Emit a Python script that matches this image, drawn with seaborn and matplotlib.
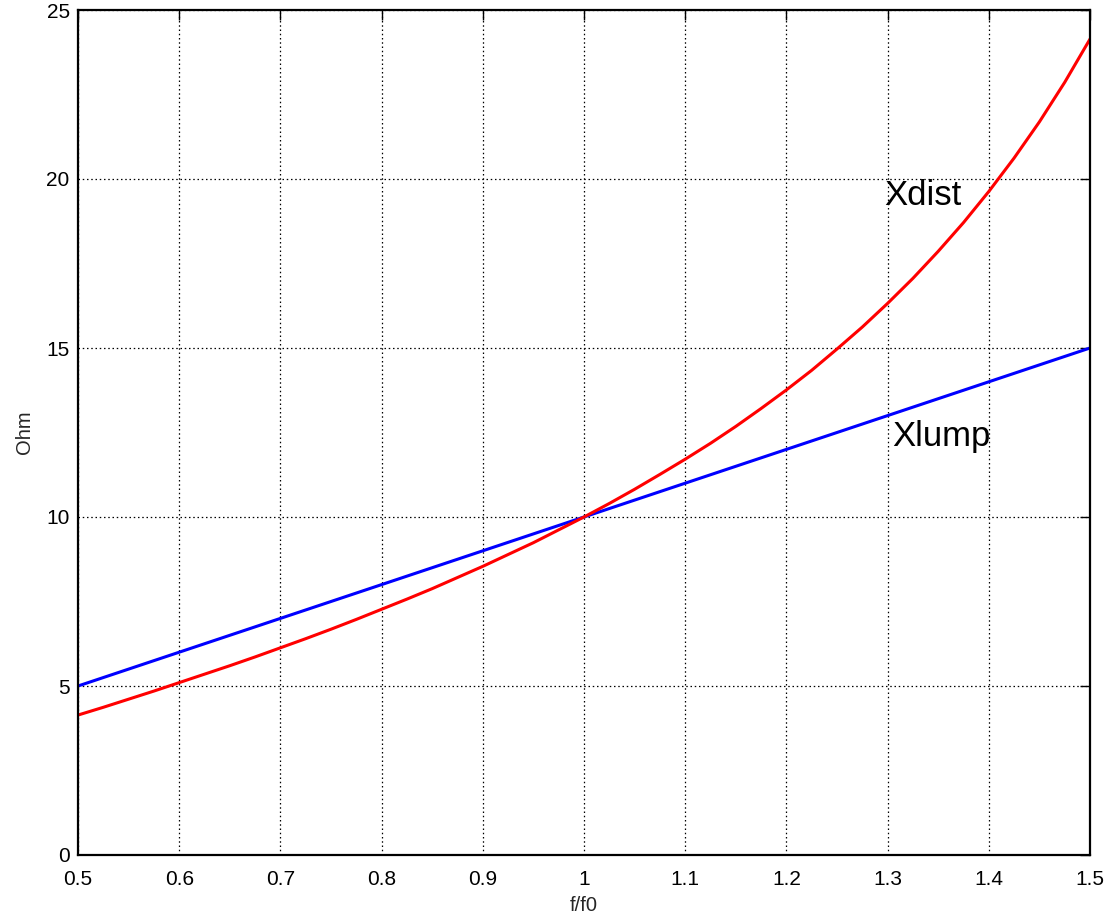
import matplotlib
matplotlib.use("Agg")
import matplotlib.pyplot as plt
import seaborn as sns
import pandas as pd

# values
f_ratio = [0.500, 0.525, 0.550, 0.575, 0.600, 0.625, 0.650, 0.675, 0.700, 0.725,
           0.750, 0.775, 0.800, 0.825, 0.850, 0.875, 0.900, 0.925, 0.950, 0.975,
           1.000, 1.025, 1.050, 1.075, 1.100, 1.125, 1.150, 1.175, 1.200, 1.225,
           1.250, 1.275, 1.300, 1.325, 1.350, 1.375, 1.400, 1.425, 1.450, 1.475,
           1.500]
x_lump = [5.00, 5.25, 5.50, 5.75, 6.00, 6.25, 6.50, 6.75, 7.00, 7.25,
          7.50, 7.75, 8.00, 8.25, 8.50, 8.75, 9.00, 9.25, 9.50, 9.75,
          10.00, 10.25, 10.50, 10.75, 11.00, 11.25, 11.50, 11.75, 12.00, 12.25,
          12.50, 12.75, 13.00, 13.25, 13.50, 13.75, 14.00, 14.25, 14.50, 14.75,
          15.00]
x_dist = [4.14, 4.37, 4.61, 4.85, 5.10, 5.35, 5.60, 5.86, 6.13, 6.40,
          6.68, 6.97, 7.27, 7.57, 7.88, 8.21, 8.54, 8.89, 9.24, 9.62,
          10.00, 10.40, 10.82, 11.26, 11.71, 12.18, 12.68, 13.21, 13.76, 14.34,
          14.97, 15.62, 16.32, 17.06, 17.86, 18.71, 19.63, 20.62, 21.69, 22.86,
          24.14]
x_ticks = [0.5, 0.6, 0.7, 0.8, 0.9, 1.0, 1.1, 1.2, 1.3, 1.4, 1.5]
x_tick_labels = ["0.5", "0.6", "0.7", "0.8", "0.9", "1", "1.1", "1.2", "1.3", "1.4", "1.5"]
y_ticks = [0, 5, 10, 15, 20, 25]

sns.set_style("white")
plt.rcParams['font.family'] = ['Liberation Sans', 'DejaVu Sans']

df = pd.DataFrame({"f": f_ratio, "Xlump": x_lump, "Xdist": x_dist})

fig = plt.figure(figsize=(11.08, 9.14), dpi=100)
ax = fig.add_axes([78/1108, 59/914, 1012/1108, 845/914])

sns.lineplot(data=df, x="f", y="Xlump", ax=ax, color="#0000ff", linewidth=2.2)
sns.lineplot(data=df, x="f", y="Xdist", ax=ax, color="#ff0000", linewidth=2.2)

ax.set_xlim(0.5, 1.5)
ax.set_ylim(0, 25)
ax.set_xticks(x_ticks)
ax.set_xticklabels(x_tick_labels)
ax.set_yticks(y_ticks)
ax.grid(True, color="black", linestyle=(0, (1.2, 2.2)), linewidth=0.9)
ax.set_axisbelow(True)
for s in ax.spines.values():
    s.set_color("black")
    s.set_linewidth(1.6)
ax.tick_params(direction="in", length=7, width=1.0, top=True, right=True,
               labelsize=15, colors="black")
ax.tick_params(axis="x", pad=11)
ax.tick_params(axis="y", pad=6)
ax.set_xlabel("f/f0", fontsize=14.5, labelpad=5)
ax.set_ylabel("Ohm", fontsize=14.5, labelpad=9)

ax.text(1.297, 19.23, "Xdist", fontsize=25, color="black")
ax.text(1.305, 12.1, "Xlump", fontsize=25, color="black")

fig.savefig("out.png", dpi=100)
